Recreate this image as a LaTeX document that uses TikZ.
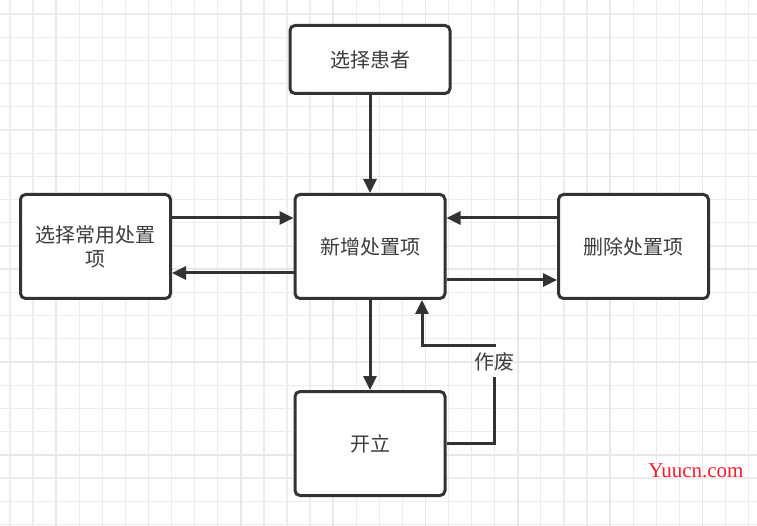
\documentclass[tikz,border=0pt]{standalone}
\usepackage{fontspec}
\setmainfont{Noto Sans CJK SC}
\newfontfamily\markfont{Liberation Serif}
\usetikzlibrary{arrows.meta,calc}
\definecolor{boxline}{HTML}{333333}
\definecolor{boxtext}{HTML}{3C3C3C}
\definecolor{gridminor}{HTML}{EDEDED}
\definecolor{gridmajor}{HTML}{E8E8E8}
\definecolor{markred}{HTML}{FF1A2E}
\tikzset{
  proc/.style={draw=boxline, line width=3pt, rounded corners=5pt, fill=white,
    text=boxtext, minimum width=150pt, minimum height=104pt, align=center,
    font=\fontsize{20}{24}\selectfont},
  link/.style={draw=boxline, line width=3pt, -{Triangle[length=14pt,width=13pt]}},
  wire/.style={draw=boxline, line width=3pt},
}
\newcommand{\paper}[2]{
  \clip (0,0) rectangle (#1,#2);
  \foreach \i in {0,...,32}
    \draw[gridminor, line width=1.3pt] ({10+23.08*\i},0) -- ({10+23.08*\i},#2);% minor columns
  \foreach \j in {0,...,22}
    \draw[gridminor, line width=1.3pt] (0,{14+23.2*\j}) -- (#1,{14+23.2*\j});% minor rows
  \foreach \i in {0,...,8}
    \draw[gridmajor, line width=1.7pt] ({56.2+92.32*\i},0) -- ({56.2+92.32*\i},#2);
  \foreach \j in {0,...,5}
    \draw[gridmajor, line width=1.7pt] (0,{83.6+92.8*\j}) -- (#1,{83.6+92.8*\j});
}

\begin{document}
\begin{tikzpicture}[x=1pt,y=-1pt]
    \useasboundingbox (0,0) rectangle (757,526);
    \begin{scope}
      \paper{757}{526}
    \end{scope}

    \node[proc, minimum width=160pt, minimum height=68pt] (patient) at (370,59.5) {选择患者};
    \node[proc] (common) at (95.5,246.5) {选择常用处置\\项};
    \node[proc] (add) at (370,246.5) {新增处置项};
    \node[proc] (remove) at (633.5,246.5) {删除处置项};
    \node[proc] (open) at (370,443.5) {开立};

    \draw[link] (patient) -- (add);
    \draw[link] ([yshift=28.5pt]common.east) -- ([yshift=28.5pt]add.west);
    \draw[link] ([yshift=-26.5pt]add.west) -- ([yshift=-26.5pt]common.east);
    \draw[link] ([yshift=28.5pt]remove.west) -- ([yshift=28.5pt]add.east);
    \draw[link] ([yshift=-33.5pt]add.east) -- ([yshift=-33.5pt]remove.west);
    \draw[link] (add) -- (open);

    % the cancel loop back up into add
    \node[text=boxtext, font=\fontsize{20}{24}\selectfont, inner sep=0pt, minimum height=29pt] (cancel) at (494,362) {作废};
    \coordinate (turn) at (422,345);
    \draw[wire] (open.east) -| (cancel.south);
    \draw[link] (cancel.north) |- (turn) -- (turn |- add.south);

    \node[text=markred, font=\markfont\fontsize{21}{24}\selectfont, inner sep=0pt] (mark) at (696,471) {Yuucn.com};
\end{tikzpicture}
\end{document}
